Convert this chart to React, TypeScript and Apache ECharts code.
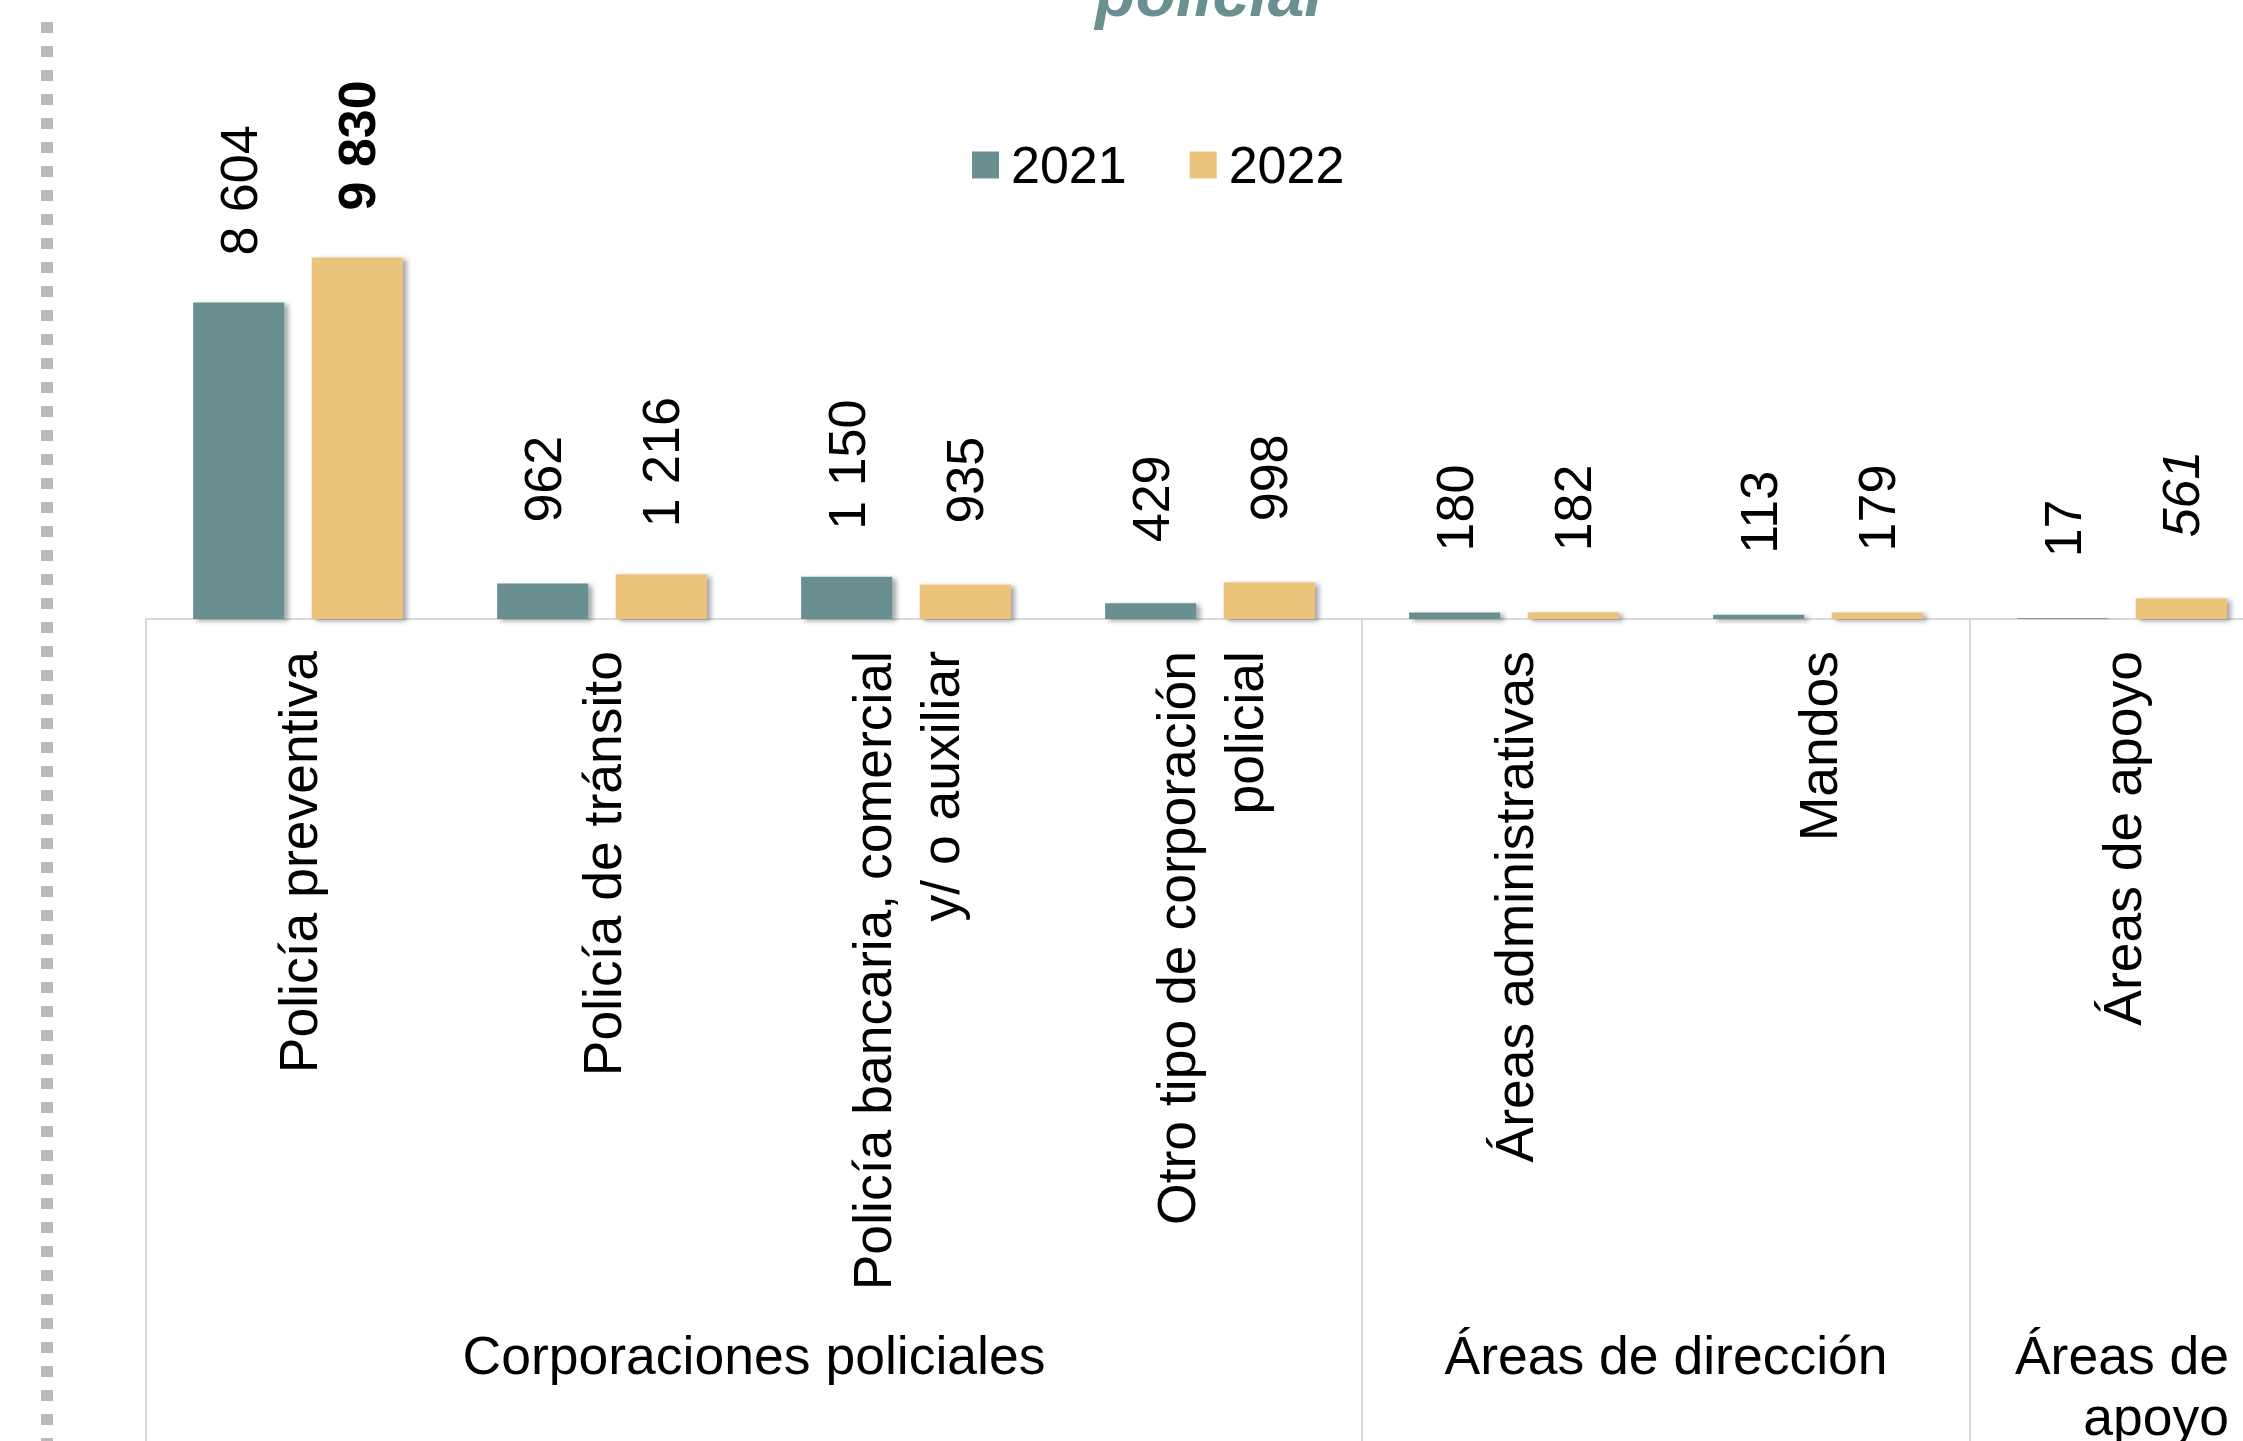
import React, { useEffect, useRef } from "react";
import * as echarts from "echarts";

const categories = [
  "Policía preventiva",
  "Policía de tránsito",
  "Policía bancaria, comercial\ny/ o auxiliar",
  "Otro tipo de corporación\npolicial",
  "Áreas administrativas",
  "Mandos",
  "Áreas de apoyo",
];
const groups = ["Corporaciones policiales", "Áreas de dirección", "Áreas de\napoyo"];
const groupSizes = [4, 2, 1];
const seriesNames = ["2021", "2022"];
const values2021 = [8604, 962, 1150, 429, 180, 113, 17];
const values2022 = [9830, 1216, 935, 998, 182, 179, 561];
const titleText = "policial";

const FONT = '"Liberation Sans", Arial, Helvetica, sans-serif';
const COLORS = ["#6a8f90", "#eac47a"];

const fmt = (v: number) => String(v).replace(/\B(?=(\d{3})+(?!\d))/g, " ");

export default function App() {
  const ref = useRef<HTMLDivElement>(null);
  useEffect(() => {
    if (!ref.current) return;
    const chart = echarts.init(ref.current, undefined, { renderer: "svg" });

    const boundaries: number[] = [];
    const centers: number[] = [];
    let acc = 0;
    groupSizes.forEach((s) => {
      boundaries.push(acc);
      centers.push(acc + s / 2);
      acc += s;
    });

    const makeSeries = (name: string, vals: number[], color: string, sIdx: number) => {
      const max = Math.max(...vals);
      return {
        type: "bar",
        name,
        xAxisIndex: 0,
        yAxisIndex: 0,
        barWidth: "30%",
        barGap: "30%",
        itemStyle: {
          color,
          shadowColor: "rgba(0,0,0,0.35)",
          shadowBlur: 5,
          shadowOffsetX: 4,
          shadowOffsetY: 2,
        },
        label: {
          show: true,
          position: "top",
          rotate: 90,
          align: "left",
          verticalAlign: "middle",
          fontSize: 52,
          fontFamily: FONT,
          color: "#000",
          formatter: (p: any) => fmt(p.value),
        },
        data: vals.map((v, i) => {
          const t = fmt(v);
          return {
            value: v,
            label: {
              distance: 82 - 7 * Math.max(t.length, 3),
              fontWeight: sIdx === 1 && v === max ? "bold" : "normal",
              fontStyle: sIdx === 1 && i === vals.length - 1 ? "italic" : "normal",
            },
          };
        }),
      };
    };

    chart.setOption({
      animation: false,
      backgroundColor: "#fff",
      grid: {
        left: 146,
        right: 0,
        top: 251.2,
        bottom: 822,
        containLabel: false,
        outerBoundsMode: "none",
      },
      legend: {
        data: seriesNames,
        left: 967,
        top: 134,
        icon: "rect",
        itemWidth: 27,
        itemHeight: 27,
        itemGap: 63,
        textStyle: { fontSize: 52, color: "#000", fontFamily: FONT, padding: [0, 0, 0, 7] },
      },
      xAxis: [
        {
          type: "category",
          data: categories,
          boundaryGap: true,
          axisLine: { show: true, lineStyle: { color: "#d9d9d9", width: 2 } },
          axisTick: {
            show: true,
            interval: (i: number) => boundaries.includes(i),
            length: 822,
            lineStyle: { color: "#d9d9d9", width: 2 },
          },
          axisLabel: {
            interval: 0,
            rotate: 90,
            margin: 32,
            fontSize: 53.5,
            lineHeight: 68,
            color: "#000",
            fontFamily: FONT,
          },
          splitLine: { show: false },
        },
        {
          type: "value",
          min: 0,
          max: categories.length,
          interval: 0.5,
          position: "bottom",
          axisLine: { show: false },
          axisTick: { show: false },
          splitLine: { show: false },
          axisLabel: {
            margin: 705.5,
            fontSize: 53.5,
            lineHeight: 61,
            verticalAlign: "top",
            color: "#000",
            fontFamily: FONT,
            formatter: (v: number) => {
              const k = centers.findIndex((c) => Math.abs(c - v) < 1e-6);
              if (k < 0) return "";
              return groups[k]
                .split("\n")
                .map((line) => "{g|" + line + "}")
                .join("\n");
            },
            rich: {
              g: {
                align: "right",
                fontSize: 53.5,
                lineHeight: 61,
                color: "#000",
                fontFamily: FONT,
              },
            },
          },
        },
      ],
      yAxis: { type: "value", min: 0, max: 10000, show: false },
      series: [
        makeSeries(seriesNames[0], values2021, COLORS[0], 0),
        makeSeries(seriesNames[1], values2022, COLORS[1], 1),
      ],
      graphic: [
        {
          type: "line",
          shape: { x1: 47, y1: 22, x2: 47, y2: 1441 },
          style: { stroke: "#bdb7b7", lineWidth: 12, lineDash: [11, 13] },
          silent: true,
        },
        {
          type: "text",
          x: 1209,
          y: -7,
          style: {
            text: titleText,
            fontSize: 66,
            fontWeight: "bold",
            fontStyle: "italic",
            fontFamily: FONT,
            fill: "#6a9092",
            align: "center",
            verticalAlign: "middle",
          },
          silent: true,
        },
      ],
    });
    return () => chart.dispose();
  }, []);

  return (
    <div style={{ position: "fixed", left: 0, top: 0, width: 2243, height: 1441, overflow: "hidden" }}>
      <div ref={ref} style={{ width: 2274, height: 1441 }} />
    </div>
  );
}
